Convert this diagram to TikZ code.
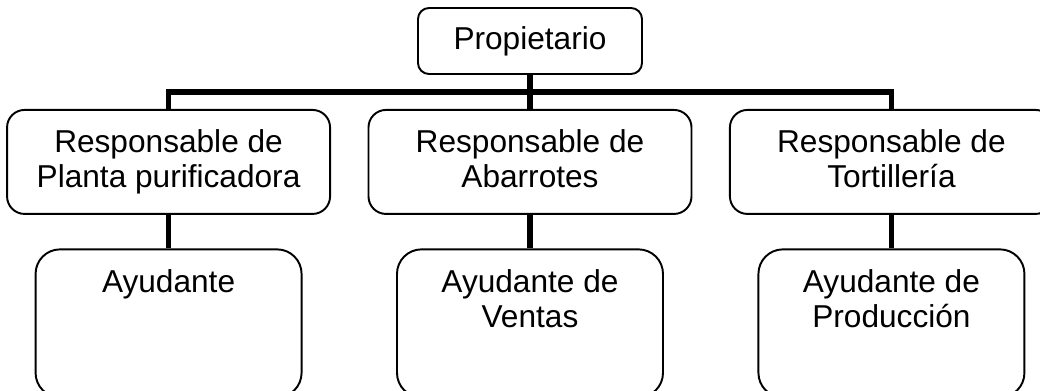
\documentclass[tikz,border=0pt]{standalone}
\usepackage{fontspec}
\setmainfont{Liberation Sans}
\usetikzlibrary{positioning,calc}
\newcommand{\toptext}[1]{\parbox[c][2.15cm][t]{4.8cm}{\centering #1}}

\begin{document}
\begin{tikzpicture}[
    role/.style={rectangle, draw=black, line width=1.1pt, align=center, font=\fontsize{18}{20}\selectfont},
    boss/.style={role, minimum width=4.48cm, minimum height=1.32cm, rounded corners=0.22cm},
    head/.style={role, minimum width=6.46cm, minimum height=2.08cm, rounded corners=0.35cm, text depth=0.13cm},
    helper/.style={role, minimum width=5.32cm, minimum height=2.96cm, rounded corners=0.49cm},
    link/.style={black, line width=3.1pt}
]
    \useasboundingbox (0,0) rectangle (20.8,-7.82);
    \clip (0,0) rectangle (20.8,-7.82);

    \node[boss] (prop) at (10.6,-0.82) {Propietario};
    \node[head, below=0.68cm of prop] (abarrotes) {Responsable de\\Abarrotes};
    \node[head, left=0.73cm of abarrotes] (planta) {Responsable de\\Planta purificadora};
    \node[head, right=0.73cm of abarrotes] (tortilla) {Responsable de\\Tortillería};

    \node[helper, below=0.67cm of planta] (ayudante) {\toptext{Ayudante}};
    \node[helper, below=0.67cm of abarrotes] (ventas) {\toptext{Ayudante de\\Ventas}};
    \node[helper, below=0.67cm of tortilla] (produccion) {\toptext{Ayudante de\\Producción}};

    \draw[link] (prop.south) -- (abarrotes.north);
    \draw[link] (planta.north) |- ($(prop.south)!0.5!(abarrotes.north)$) -| (tortilla.north);
    \draw[link] (planta.south) -- (ayudante.north);
    \draw[link] (abarrotes.south) -- (ventas.north);
    \draw[link] (tortilla.south) -- (produccion.north);
\end{tikzpicture}
\end{document}
